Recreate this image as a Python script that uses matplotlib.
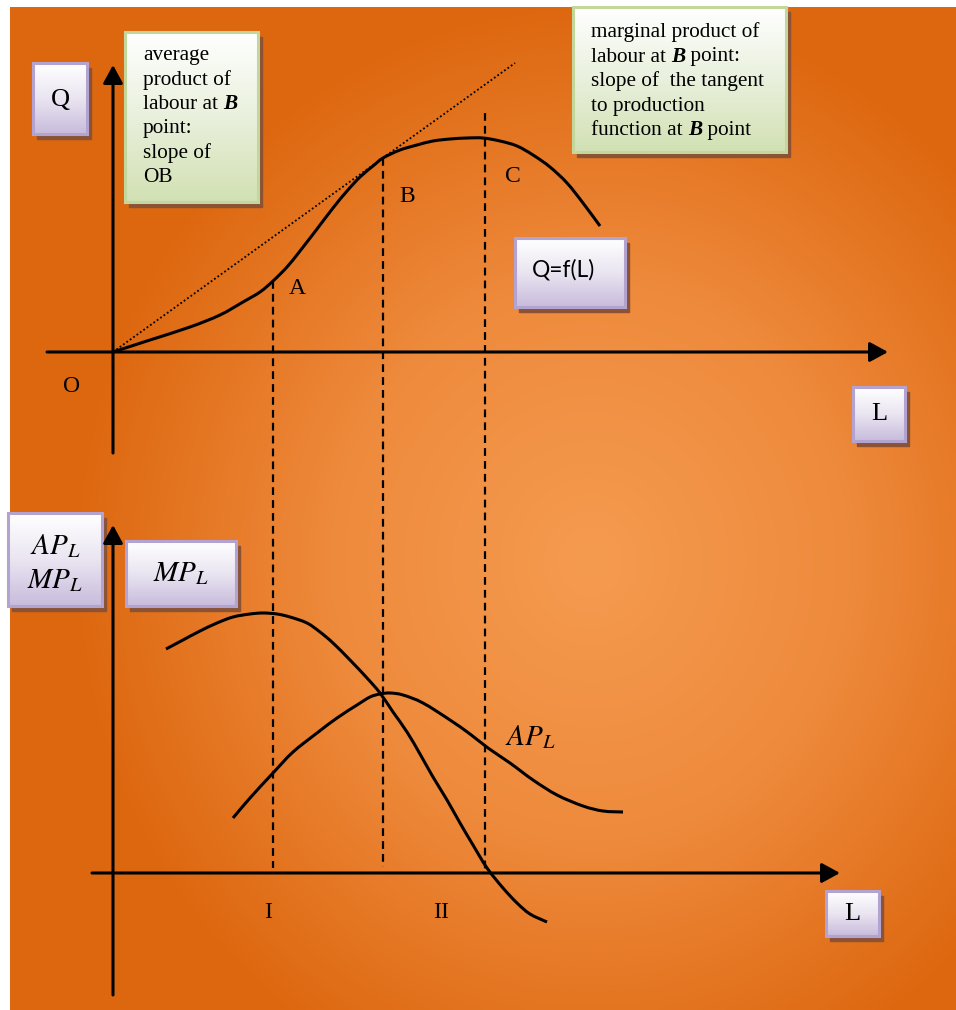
import numpy as np
import matplotlib.pyplot as plt
from matplotlib.colors import LinearSegmentedColormap
from matplotlib.patches import Rectangle, PathPatch
from matplotlib.path import Path

plt.rcParams['mathtext.fontset'] = 'stix'
SERIF = 'Liberation Serif'

# top panel: production function Q=f(L)  (1 unit = 10 px)
L_q = [0, 3.7, 7.7, 10.7, 13.0, 14.7, 16.0, 17.4, 18.7, 20.4, 22.0, 23.4, 24.7, 26.0,
       27.0, 28.7, 30.4, 32.0, 33.7, 35.4, 37.0, 38.7, 40.4, 42.0, 43.7, 45.4, 47.0, 48.7]
Q_q = [0, 1.2, 2.5, 3.7, 5.0, 6.0, 7.1, 8.5, 10.1, 12.3, 14.4, 16.1, 17.5, 18.6,
       19.4, 20.2, 20.7, 21.1, 21.3, 21.4, 21.4, 21.1, 20.6, 19.7, 18.5, 16.9, 14.9, 12.6]
# ray O-B
L_ray = [0, 40.2]
Q_ray = [0, 28.9]
# points A, B, C
pt_names = ['A', 'B', 'C']
pt_L = [16.0, 27.0, 37.2]
pt_Q = [7.1, 19.4, 23.9]

# bottom panel: marginal and average product
L_mp = [5.3, 7.0, 8.7, 10.4, 12.0, 13.7, 15.0, 16.4, 17.7, 19.4, 20.7, 22.0, 23.7, 25.4,
        26.7, 28.0, 29.4, 30.7, 32.0, 33.4, 34.7, 36.0, 37.4, 39.0, 40.4, 41.7, 43.4]
MP = [22.4, 23.3, 24.2, 25.0, 25.6, 25.9, 26.0, 25.9, 25.6, 25.0, 24.1, 23.0, 21.3, 19.5,
      18.0, 16.1, 14.1, 11.9, 9.6, 7.3, 5.0, 2.8, 0.5, -1.5, -3.0, -4.1, -4.9]
L_ap = [12.0, 13.7, 16.0, 18.0, 20.4, 22.4, 24.4, 25.7, 26.7, 27.7, 29.0, 31.0, 33.7,
        35.7, 37.5, 39.7, 42.0, 44.4, 47.0, 49.0, 51.0]
AP = [5.5, 7.5, 10.0, 12.1, 14.0, 15.5, 16.8, 17.6, 17.9, 18.0, 17.8, 17.0, 15.3,
      13.9, 12.5, 11.0, 9.3, 7.8, 6.7, 6.2, 6.1]

fig = plt.figure(figsize=(9.56, 10.10), dpi=100)

# background layer in pixel coordinates
ax0 = fig.add_axes([0, 0, 1, 1])
ax0.axis('off')
yy, xx = np.mgrid[7:1010:4, 10:956:4]
r = np.sqrt(((xx - 590) / 520.0) ** 2 + ((yy - 560) / 560.0) ** 2)
bg_cmap = LinearSegmentedColormap.from_list('bg', ['#F59B50', '#EE8A3C', '#DD670F'])
ax0.imshow(np.clip(r, 0, 1), cmap=bg_cmap, vmin=0, vmax=1, extent=(10, 956, 1010, 7),
           origin='upper', aspect='auto', interpolation='bilinear', zorder=0)

purple = LinearSegmentedColormap.from_list('pu', ['#FFFFFF', '#EAE5F1', '#C8BCDC'])
green = LinearSegmentedColormap.from_list('gr', ['#FFFFFF', '#E9F0DC', '#D2E1B4'])


def box(x0, y0, x1, y1, cmap, edge):
    ax0.add_patch(Rectangle((x0 + 4, y0 + 5), x1 - x0, y1 - y0, color='#8B5234', zorder=2))
    g = np.linspace(0, 1, 64).reshape(-1, 1)
    ax0.imshow(g, cmap=cmap, extent=(x0, x1, y1, y0), origin='upper', aspect='auto', zorder=3)
    ax0.add_patch(Rectangle((x0, y0), x1 - x0, y1 - y0, fill=False, ec=edge, lw=2.2, zorder=4))


box(33, 63, 87, 134, purple, '#B3A3D0')
box(125, 32, 258, 202, green, '#C3D79C')
box(573, 7, 786, 152, green, '#C3D79C')
box(515, 238, 625, 307, purple, '#B3A3D0')
box(853, 387, 905, 441, purple, '#B3A3D0')
box(826, 891, 879, 936, purple, '#B3A3D0')
box(8, 513, 102, 606, purple, '#B3A3D0')
box(126, 541, 236, 606, purple, '#B3A3D0')
ax0.set_xlim(0, 956)
ax0.set_ylim(1010, 0)

ax0.text(60, 100, 'Q', fontsize=19, family=SERIF, ha='center', va='center', zorder=5)
ax0.text(879, 414, 'L', fontsize=19, family=SERIF, ha='center', va='center', zorder=5)
ax0.text(852, 914, 'L', fontsize=19, family=SERIF, ha='center', va='center', zorder=5)
ax0.text(532, 276, 'Q=f(L)', fontsize=16.4, family='Lato', ha='left', va='baseline', zorder=5)
ax0.text(55, 546, r'$AP_L$', fontsize=21, ha='center', va='center', zorder=5)
ax0.text(55, 580, r'$MP_L$', fontsize=21, ha='center', va='center', zorder=5)
ax0.text(181, 573, r'$MP_L$', fontsize=21, ha='center', va='center', zorder=5)

renderer = fig.canvas.get_renderer()


def line(x, y, parts, size=15.3):
    for s, bi in parts:
        t = ax0.text(x, y, s, fontsize=size, family=SERIF, ha='left', va='baseline', zorder=5,
                     fontweight='bold' if bi else 'normal', style='italic' if bi else 'normal')
        x += t.get_window_extent(renderer=renderer).width


avg_lines = [[('average', 0)], [('product of', 0)], [('labour at ', 0), ('B', 1)],
             [('point:', 0)], [('slope of', 0)], [('OB', 0)]]
for i, p in enumerate(avg_lines):
    line(143, 60 + 24.5 * i, p)

mp_lines = [[('marginal product of', 0)], [('labour at ', 0), ('B', 1), (' point:', 0)],
            [('slope of  the tangent', 0)], [('to production', 0)],
            [('function at ', 0), ('B', 1), (' point', 0)]]
for i, p in enumerate(mp_lines):
    line(591, 37 + 24.5 * i, p)

ax1 = fig.add_axes([0, 0, 1, 1])
ax1.patch.set_alpha(0)
ax1.axis('off')
ax1.set_xlim(-11.3, 84.3)
ax1.set_ylim(-65.8, 35.2)

ax2 = fig.add_axes([0, 0, 1, 1])
ax2.patch.set_alpha(0)
ax2.axis('off')
ax2.set_xlim(-11.3, 84.3)
ax2.set_ylim(-13.7, 87.3)


def smooth(ax, xs, ys, lw=2.2):
    # draw a smooth curve through the points (Catmull-Rom as cubic Bezier)
    p = np.column_stack([xs, ys]).astype(float)
    ext = np.vstack([p[0], p, p[-1]])
    verts = [p[0]]
    codes = [Path.MOVETO]
    for i in range(1, len(ext) - 2):
        c1 = ext[i] + (ext[i + 1] - ext[i - 1]) / 6
        c2 = ext[i + 1] - (ext[i + 2] - ext[i]) / 6
        verts += [c1, c2, ext[i + 1]]
        codes += [Path.CURVE4] * 3
    ax.add_patch(PathPatch(Path(verts, codes), fill=False, ec='k', lw=lw, capstyle='butt'))


arrow = dict(arrowstyle='-|>,head_length=0.55,head_width=0.3', color='k', lw=2.2,
             mutation_scale=20, shrinkA=0, shrinkB=0)
ax1.annotate('', xy=(77.5, 0), xytext=(-6.6, 0), arrowprops=arrow)
ax1.annotate('', xy=(0, 28.7), xytext=(0, -10.1), arrowprops=arrow)
ax2.annotate('', xy=(72.7, 0), xytext=(-2.1, 0), arrowprops=arrow)
ax2.annotate('', xy=(0, 34.8), xytext=(0, -12.2), arrowprops=arrow)

smooth(ax1, L_q, Q_q)
ax1.plot(L_ray, Q_ray, color='k', lw=1.3, linestyle=(0, (1, 1.3)))

smooth(ax2, L_mp, MP)
smooth(ax2, L_ap, AP)

# dashed guides from the production curve down to the lower L axis
bottom_y = [0.5, 0.6, 0.0]
to_ax1 = ax1.transData.inverted()
for L, Q, yb in zip(pt_L, pt_Q, bottom_y):
    lb = to_ax1.transform(ax2.transData.transform((L, yb)))
    ax1.plot([L, L], [Q, lb[1]], color='k', lw=1.6, linestyle=(0, (3.5, 2.3)))

for name, dx, dy in zip(pt_names, [2.4, 2.4, 2.8], [-0.8, -3.9, -6.4]):
    i = pt_names.index(name)
    ax1.text(pt_L[i] + dx, pt_Q[i] + dy, name, fontsize=17, family=SERIF, ha='center', va='center')
ax1.text(-4.1, -3.4, 'O', fontsize=17, family=SERIF, ha='center', va='center')

ax2.text(15.5, -4.0, 'I', fontsize=17, family=SERIF, ha='center', va='center')
ax2.text(32.8, -4.0, 'II', fontsize=17, family=SERIF, ha='center', va='center')
ax2.text(41.7, 13.6, r'$AP_L$', fontsize=21, ha='center', va='center')

fig.savefig('out.png', dpi=100, facecolor='white')
